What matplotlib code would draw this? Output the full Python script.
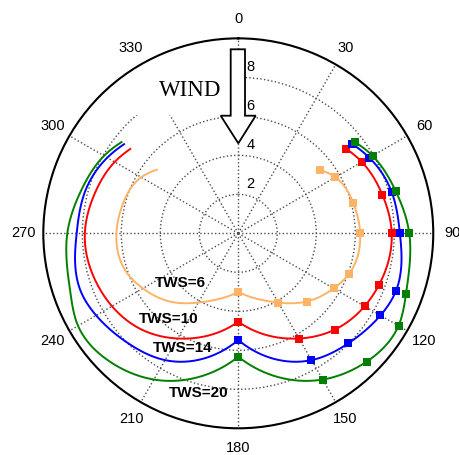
import numpy as np
import matplotlib.pyplot as plt
from matplotlib.patches import Polygon, Rectangle
from matplotlib.transforms import offset_copy

# true wind angles (deg) and boat speed (kn) for each true wind speed
twa = [52, 60, 75, 90, 110, 120, 135, 150, 180]
tws6 = [5.3, 5.75, 6.1, 6.25, 6.05, 5.65, 4.95, 4.1, 3.0]
tws10 = [7.03, 7.32, 7.65, 7.87, 7.69, 7.48, 6.99, 6.23, 4.53]
tws14 = [7.43, 7.76, 8.15, 8.29, 8.61, 8.42, 7.98, 7.51, 5.47]
tws20 = [7.6, 7.95, 8.36, 8.77, 9.15, 9.49, 9.31, 8.66, 6.33]

series = [
    ("TWS=6", tws6, "#ffb366", 229.5, 3.93),
    ("TWS=10", tws10, "#ff0000", 219.0, 5.65),
    ("TWS=14", tws14, "#0000ff", 205.8, 6.55),
    ("TWS=20", tws20, "#008000", 193.9, 8.42),
]


def natural_spline(x, y, xs):
    x = np.asarray(x, float)
    y = np.asarray(y, float)
    n = len(x)
    h = np.diff(x)
    A = np.zeros((n, n))
    b = np.zeros(n)
    A[0, 0] = A[-1, -1] = 1
    for i in range(1, n - 1):
        A[i, i - 1] = h[i - 1]
        A[i, i] = 2 * (h[i - 1] + h[i])
        A[i, i + 1] = h[i]
        b[i] = 3 * ((y[i + 1] - y[i]) / h[i] - (y[i] - y[i - 1]) / h[i - 1])
    c = np.linalg.solve(A, b)
    bb = (y[1:] - y[:-1]) / h - h * (2 * c[:-1] + c[1:]) / 3
    d = (c[1:] - c[:-1]) / (3 * h)
    k = np.clip(np.searchsorted(x, xs) - 1, 0, n - 2)
    t = xs - x[k]
    return y[k] + bb[k] * t + c[k] * t ** 2 + d[k] * t ** 3


fig = plt.figure(figsize=(4.6, 4.55), dpi=100)
ax = fig.add_axes([0.0941, 0.0587, 0.8478, 0.857], projection="polar")
ax.set_theta_zero_location("N")
ax.set_theta_direction(-1)
ax.set_ylim(0, 10)
ax.set_yticks([2, 4, 6, 8])
ax.set_yticklabels([])
ax.set_xticks(np.radians(np.arange(0, 360, 30)))
ax.set_xticklabels([])
ax.set_axisbelow(True)
ax.grid(True, color="0.3", linestyle=":", linewidth=1.0)
ax.spines["polar"].set_linewidth(1.5)

# overlay in pixel units for the wind arrow
ov = fig.add_axes([0, 0, 1, 1])
ov.set_xlim(0, 460)
ov.set_ylim(455, 0)
ov.axis("off")
ov.patch.set_visible(False)

ax.add_patch(Rectangle((40, 30), 189, 85, transform=ov.transData,
                       facecolor="white", edgecolor="none", zorder=1))

for label, spd, col, la, lr in series:
    th = np.linspace(twa[0], 180, 300)
    r = natural_spline(twa, spd, th)
    ax.plot(np.radians(th), r, color=col, lw=1.4, zorder=2)
    ax.plot(np.radians(360 - th), r, color=col, lw=1.4, zorder=2)
    ax.plot(np.radians(twa), spd, "s", color=col, ms=5.5, mew=0, zorder=3)
    ax.text(np.radians(la), lr, label, ha="center", va="center",
            fontsize=11, fontweight="bold", family="Liberation Sans", zorder=4)

for a in range(0, 360, 30):
    ax.text(np.radians(a), 11.0, str(a), ha="center", va="center",
            fontsize=10.5, family="Liberation Sans", clip_on=False)

rlab = offset_copy(ax.transData, fig=fig, x=12, y=10, units="dots")
for rv in [2, 4, 6, 8]:
    ax.text(0, rv, str(rv), transform=rlab, ha="center", va="center",
            fontsize=10.5, family="Liberation Sans", zorder=5)

arrow = [(230.7, 49.3), (245, 49.3), (245, 115.7), (255.7, 115.7),
         (238.3, 143.3), (220.7, 115.7), (230.7, 115.7)]
ov.add_patch(Polygon(arrow, closed=True, facecolor="white",
                     edgecolor="black", lw=1.3))
ov.text(190, 90, "WIND", family="Liberation Serif", fontsize=16.5,
        ha="center", va="center")

fig.savefig("out.png", dpi=100)
